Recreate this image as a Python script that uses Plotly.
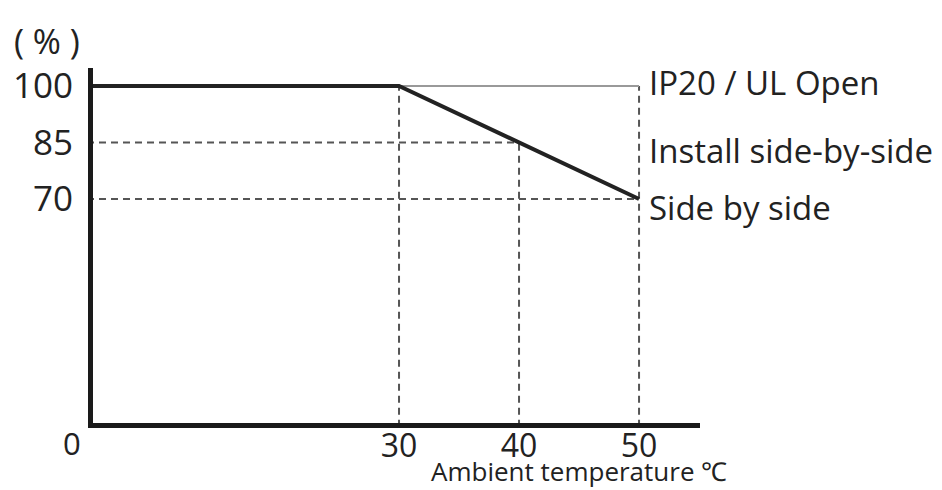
import plotly.graph_objects as go

# derating curve
temperature = [0, 30, 50]
output_pct = [100, 100, 70]

# reference levels
x_ticks = [30, 40, 50]
y_ticks = [70, 85, 100]
labels = ["IP20 / UL Open", "Install side-by-side", "Side by side"]
label_levels = [100, 85, 70]

FONT = "Open Sans"
DARK = "#222222"
DASH = "#555555"

fig = go.Figure()

# dashed guides
fig.add_trace(go.Scatter(x=[0, 40], y=[85, 85], mode="lines",
                         line=dict(color=DASH, width=2, dash="7px,5px")))
fig.add_trace(go.Scatter(x=[0, 50], y=[70, 70], mode="lines",
                         line=dict(color=DASH, width=2, dash="7px,5px")))
fig.add_trace(go.Scatter(x=[30, 30], y=[0, 100], mode="lines",
                         line=dict(color=DASH, width=2, dash="7px,5px")))
fig.add_trace(go.Scatter(x=[40, 40], y=[0, 85], mode="lines",
                         line=dict(color=DASH, width=2, dash="7px,5px")))
fig.add_trace(go.Scatter(x=[50, 50], y=[0, 100], mode="lines",
                         line=dict(color=DASH, width=2, dash="7px,5px")))
# grey continuation of 100 %
fig.add_trace(go.Scatter(x=[30, 50], y=[100, 100], mode="lines",
                         line=dict(color="#999999", width=2)))
# main curve
fig.add_trace(go.Scatter(x=temperature, y=output_pct, mode="lines",
                         line=dict(color=DARK, width=4)))

for text, lvl in zip(labels, label_levels):
    fig.add_annotation(x=50, y=lvl, xref="x", yref="y", text=text,
                       showarrow=False, xanchor="left", yanchor="middle",
                       xshift=8, yshift=4 if lvl == 100 else -8,
                       font=dict(family=FONT, size=33, color=DARK))

fig.add_annotation(x=0, y=0, xref="paper", yref="paper", text="0",
                   showarrow=False, xanchor="right", yanchor="top",
                   xshift=-10, yshift=3,
                   font=dict(family=FONT, size=31, color=DARK))
fig.add_annotation(x=0, y=1, xref="paper", yref="paper", text="( % )",
                   showarrow=False, xanchor="right", yanchor="bottom",
                   xshift=-11, yshift=2,
                   font=dict(family=FONT, size=34, color=DARK))
fig.add_annotation(x=0.8, y=0, xref="paper", yref="paper",
                   text="Ambient temperature ℃",
                   showarrow=False, xanchor="center", yanchor="middle",
                   yshift=-48,
                   font=dict(family=FONT, size=26, color=DARK))

fig.update_layout(
    width=942, height=490,
    margin=dict(l=93, r=242, t=68, b=67),
    paper_bgcolor="white", plot_bgcolor="white",
    showlegend=False,
    font=dict(family=FONT, color=DARK),
)
fig.update_xaxes(range=[4.5, 55.08], tickvals=x_ticks, showgrid=False,
                 zeroline=False, showline=True, linecolor="#1a1a1a",
                 linewidth=5, ticks="", tickfont=dict(size=32),
                 ticklabelstandoff=-9, automargin=False)
fig.update_yaxes(range=[10.54, 104.78], tickvals=y_ticks, showgrid=False,
                 zeroline=False, showline=True, linecolor="#1a1a1a",
                 linewidth=5, ticks="", tickfont=dict(size=35),
                 ticklabelstandoff=8, automargin=False)

# drop the default 8px body margin so the figure fills the window exactly
fig.write_html("out.html", config={"displayModeBar": False},
               post_script="document.body.style.margin='0';")
